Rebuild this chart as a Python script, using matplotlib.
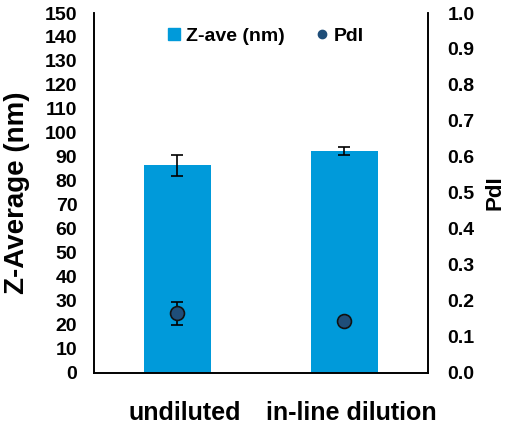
import matplotlib
matplotlib.use("Agg")
import matplotlib.pyplot as plt
import matplotlib.transforms as mtransforms
from matplotlib.lines import Line2D

plt.rcParams['font.family'] = ['Liberation Sans', 'DejaVu Sans']
plt.rcParams['font.weight'] = 'bold'

categories = ["undiluted", "in-line dilution"]
z_ave = [86.5, 92.3]
z_err = [4.5, 1.7]
pdi = [0.165, 0.143]
pdi_err = [0.031, 0.004]

bar_color = "#009ADA"
pdi_color = "#1F4E79"

fig = plt.figure(figsize=(5.12, 4.28), dpi=100)
ax = fig.add_axes([0.1836, 0.129, 0.6523, 0.8406])
x = list(range(len(categories)))
ax.bar(x, z_ave, width=0.4, color=bar_color, zorder=2)
ax.errorbar(x, z_ave, yerr=z_err, fmt="none", ecolor="black", elinewidth=1.2,
            capsize=4, capthick=1.2, zorder=3)
ax.set_xlim(-0.5, 1.5)
ax.set_ylim(0, 150)
ax.set_yticks(range(0, 151, 10))
ax.set_xticks(x)
ax.set_xticklabels(categories, fontsize=18, fontweight="bold")
ax.tick_params(axis="y", length=0, labelsize=14, pad=12)
ax.tick_params(axis="x", length=0, labelsize=18, pad=20)
# Excel places the category labels a little right of the bar centres
shift = mtransforms.ScaledTranslation(7 / 100, 0, fig.dpi_scale_trans)
for lbl in ax.get_xticklabels():
    lbl.set_transform(lbl.get_transform() + shift)
ax.set_ylabel("Z-Average (nm)", fontsize=20, fontweight="bold", labelpad=11)

ax2 = ax.twinx()
ax2.errorbar(x, pdi, yerr=pdi_err, fmt="o", color=pdi_color, markersize=10,
             markeredgecolor="#111111", markeredgewidth=1.2, ecolor="black",
             elinewidth=1.2, capsize=4, capthick=1.2, zorder=4)
ax2.set_ylim(0, 1.0)
ax2.set_yticks([i / 10 for i in range(11)])
ax2.set_yticklabels([f"{i / 10:.1f}" for i in range(11)])
ax2.tick_params(axis="y", length=0, labelsize=14, pad=14)
ax2.set_ylabel("PdI", fontsize=16, fontweight="bold", labelpad=7)

for a in (ax, ax2):
    a.spines["top"].set_visible(False)
    for s in ("left", "right", "bottom"):
        a.spines[s].set_linewidth(1.2)

handles = [
    Line2D([], [], marker="s", linestyle="none", color=bar_color, markersize=8),
    Line2D([], [], marker="o", linestyle="none", color=pdi_color, markersize=6),
]
ax.legend(handles, ["Z-ave (nm)", "PdI"], loc="upper center", ncol=2, frameon=False,
          fontsize=14, handlelength=0.6, handletextpad=0.3, columnspacing=1.6,
          bbox_to_anchor=(0.515, 1.01))

fig.savefig("out.png", dpi=100)
